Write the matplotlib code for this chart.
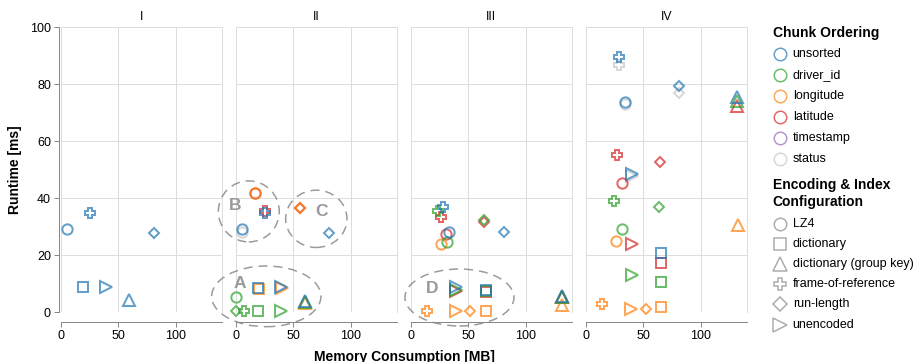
import matplotlib
matplotlib.use("Agg")
import matplotlib.pyplot as plt
from matplotlib.patches import Ellipse
import numpy as np

plt.rcParams['font.family'] = ['Liberation Sans', 'DejaVu Sans']

# data: one entry per point
panel = (['I'] * 6
         + ['II'] * 6 + ['II'] + ['II'] * 3 + ['II'] * 5 + ['II'] * 6
         + ['III'] * 6 + ['III'] * 6 + ['III'] * 6 + ['III'] * 6
         + ['IV'] * 4 + ['IV'] * 6 + ['IV'] * 6 + ['IV'] * 6 + ['IV'] * 6)
ordering = (['unsorted'] * 6
            + ['unsorted'] * 6 + ['status'] + ['latitude'] * 3 + ['longitude'] * 5 + ['driver_id'] * 6
            + ['unsorted'] * 6 + ['driver_id'] * 6 + ['latitude'] * 6 + ['longitude'] * 6
            + ['status'] * 4 + ['unsorted'] * 6 + ['latitude'] * 6 + ['driver_id'] * 6 + ['longitude'] * 6)
encoding = (['LZ4', 'dictionary', 'dictionary (group key)', 'frame-of-reference', 'run-length', 'unencoded']
            # II
            + ['LZ4', 'dictionary', 'dictionary (group key)', 'frame-of-reference', 'run-length', 'unencoded']
            + ['LZ4']
            + ['frame-of-reference', 'LZ4', 'run-length']
            + ['LZ4', 'run-length', 'dictionary', 'unencoded', 'dictionary (group key)']
            + ['LZ4', 'dictionary', 'dictionary (group key)', 'frame-of-reference', 'run-length', 'unencoded']
            # III
            + ['frame-of-reference', 'LZ4', 'run-length', 'unencoded', 'dictionary', 'dictionary (group key)']
            + ['frame-of-reference', 'LZ4', 'run-length', 'unencoded', 'dictionary', 'dictionary (group key)']
            + ['frame-of-reference', 'LZ4', 'run-length', 'unencoded', 'dictionary', 'dictionary (group key)']
            + ['LZ4', 'frame-of-reference', 'unencoded', 'run-length', 'dictionary', 'dictionary (group key)']
            # IV
            + ['frame-of-reference', 'run-length', 'LZ4', 'unencoded']
            + ['frame-of-reference', 'run-length', 'LZ4', 'dictionary (group key)', 'unencoded', 'dictionary']
            + ['frame-of-reference', 'run-length', 'LZ4', 'unencoded', 'dictionary', 'dictionary (group key)']
            + ['frame-of-reference', 'run-length', 'LZ4', 'unencoded', 'dictionary', 'dictionary (group key)']
            + ['LZ4', 'dictionary (group key)', 'frame-of-reference', 'unencoded', 'run-length', 'dictionary'])
memory_mb = ([5.5, 19.7, 59.4, 25.5, 81.2, 39.4]
             + [5.5, 19.7, 60.3, 25.5, 80.9, 39.4]
             + [5.8]
             + [25.3, 16.8, 55.9]
             + [16.8, 55.9, 20.2, 39.9, 60.3]
             + [0.5, 19.7, 60.3, 7.2, 0.5, 39.4]
             + [28.4, 33.6, 81.4, 39.8, 65.5, 131.3]
             + [24.1, 31.8, 63.8, 39.8, 65.5, 131.3]
             + [26.4, 30.7, 64.0, 39.8, 65.5, 131.3]
             + [26.1, 13.9, 39.4, 51.6, 65.5, 131.3]
             + [29.0, 81.5, 34.2, 40.5]
             + [29.0, 81.5, 34.2, 131.9, 40.0, 65.4]
             + [26.9, 64.6, 31.3, 40.0, 65.4, 131.9]
             + [24.9, 63.8, 31.3, 40.0, 65.4, 131.9]
             + [26.1, 132.2, 14.5, 39.2, 52.2, 65.4])
runtime_ms = ([29.2, 8.8, 4.3, 34.9, 27.7, 9.0]
              + [29.2, 8.6, 4.0, 35.0, 27.7, 8.8]
              + [28.3]
              + [35.7, 41.7, 36.7]
              + [41.7, 36.7, 8.2, 8.5, 3.2]
              + [5.4, 0.3, 3.6, 0.3, 0.3, 0.3]
              + [37.0, 28.3, 28.3, 9.0, 8.0, 5.7]
              + [35.6, 24.7, 32.3, 8.0, 7.6, 5.5]
              + [33.3, 27.4, 31.7, 7.3, 7.2, 5.4]
              + [23.8, 0.6, 0.3, 0.3, 0.3, 2.6]
              + [86.7, 76.8, 73.0, 47.8]
              + [89.6, 79.3, 73.8, 75.4, 48.7, 20.7]
              + [55.1, 52.8, 45.4, 23.9, 17.4, 72.5]
              + [39.0, 36.8, 29.4, 13.1, 10.7, 74.0]
              + [25.1, 30.6, 2.8, 1.0, 1.0, 1.7])

panels = ['I', 'II', 'III', 'IV']
orderings = ['unsorted', 'driver_id', 'longitude', 'latitude', 'timestamp', 'status']
order_colors = ['#1f77b4', '#2ca02c', '#ff7f0e', '#d62728', '#9467bd', '#c7c7c7']
encodings = ['LZ4', 'dictionary', 'dictionary (group key)', 'frame-of-reference', 'run-length', 'unencoded']
enc_markers = ['o', 's', '^', 'P', 'D', '>']
enc_sizes = [7.4, 7.4, 8.0, 7.4, 5.6, 8.0]

# annotation ellipses: panel, label, center, width, height, label position
ellipses = [
    ('II', 'A', (26.6, 5.6), 95, 21.3, (3.7, 10.2)),
    ('II', 'B', (11.4, 35.4), 53, 21.4, (-0.6, 37.6)),
    ('II', 'C', (70.1, 32.8), 53.3, 20.1, (74.8, 35.5)),
    ('III', 'D', (42.4, 5.2), 94.8, 20.0, (18.3, 8.4)),
]

W, H = 918, 362
fig = plt.figure(figsize=(W / 100, H / 100), dpi=100)

grid_c = '#dddddd'
axis_c = '#888888'
px = 0.72  # points per pixel

color_of = dict(zip(orderings, order_colors))
marker_of = dict(zip(encodings, enc_markers))
size_of = dict(zip(encodings, enc_sizes))
draw_rank = {'status': 0, 'timestamp': 1, 'latitude': 2, 'longitude': 3, 'driver_id': 4, 'unsorted': 5}

axes = []
for i, p in enumerate(panels):
    left = 60.7 + 175 * i
    ax = fig.add_axes([left / W, (H - 312.3) / H, 161 / W, 285 / H])
    ax.set_xlim(0, 140)
    ax.set_ylim(0, 100)
    for v in [0, 50, 100]:
        ax.axvline(v, color=grid_c, lw=px, zorder=0)
    for v in range(0, 101, 20):
        ax.axhline(v, color=grid_c, lw=px, zorder=0)
    ax.spines['top'].set_color(grid_c)
    ax.spines['right'].set_color(grid_c)
    ax.spines['top'].set_linewidth(px)
    ax.spines['right'].set_linewidth(px)
    ax.spines['bottom'].set_position(('outward', 10 * px))
    ax.spines['bottom'].set_color(axis_c)
    ax.spines['bottom'].set_linewidth(px)
    ax.set_xticks([0, 50, 100])
    ax.tick_params(axis='x', length=5 * px, width=px, color=axis_c, labelsize=9, pad=2)
    if i == 0:
        ax.spines['left'].set_position(('outward', 2 * px))
        ax.spines['left'].set_color(axis_c)
        ax.spines['left'].set_linewidth(px)
        ax.set_yticks(range(0, 101, 20))
        ax.tick_params(axis='y', length=5 * px, width=px, color=axis_c, labelsize=9, pad=2)
    else:
        ax.spines['left'].set_visible(False)
        ax.set_yticks([])
    ax.set_title(p, fontsize=8.8, pad=5)
    ax.patch.set_alpha(0)
    axes.append(ax)

idx = sorted(range(len(panel)), key=lambda k: draw_rank[ordering[k]])
for k in idx:
    ax = axes[panels.index(panel[k])]
    ax.plot(memory_mb[k], runtime_ms[k], linestyle='none',
            marker=marker_of[encoding[k]], markersize=size_of[encoding[k]],
            mfc='none', mec=color_of[ordering[k]], mew=2 * px, alpha=0.7,
            clip_on=False, zorder=3)

for p, lab, c, w, h, lp in ellipses:
    ax = axes[panels.index(p)]
    ax.add_patch(Ellipse(c, w, h, fill=False, edgecolor='#888888', lw=1.5 * px,
                         linestyle=(0, (6, 4)), alpha=0.85, clip_on=False, zorder=4))
    ax.text(lp[0], lp[1], lab, fontsize=12.5, fontweight='bold', color='#999999',
            ha='center', va='center', zorder=5)

fig.text(15 / W, 1 - 169.8 / H, 'Runtime [ms]', rotation=90, ha='center', va='center',
         fontsize=10, fontweight='bold')
fig.text(404.5 / W, 1 - 356.5 / H, 'Memory Consumption [MB]', ha='center', va='center',
         fontsize=10, fontweight='bold')

# legend in pixel coordinates
lg = fig.add_axes([0, 0, 1, 1])
lg.set_xlim(0, W)
lg.set_ylim(H, 0)
lg.axis('off')
lg.text(772.7, 33.3, 'Chunk Ordering', fontsize=10, fontweight='bold', va='center', ha='left')
for j, (o, c) in enumerate(zip(orderings, order_colors)):
    y = 54.3 + 20.9 * j
    lg.plot(780, y, 'o', ms=9, mfc='none', mec=c, mew=1.5 * px, alpha=0.7)
    lg.text(792.7, y, o, fontsize=9, va='center', ha='left')
lg.text(772.7, 185, 'Encoding & Index', fontsize=10, fontweight='bold', va='center', ha='left')
lg.text(772.7, 202.3, 'Configuration', fontsize=10, fontweight='bold', va='center', ha='left')
leg_sizes = [9, 9.2, 9.6, 9.2, 6.8, 9.6]
for j, (e, m) in enumerate(zip(encodings, enc_markers)):
    y = 224 + 20.1 * j
    lg.plot(780, y, m, ms=leg_sizes[j], mfc='none', mec='#888888', mew=1.5 * px, alpha=0.7)
    lg.text(792.7, y, e, fontsize=9, va='center', ha='left')

fig.savefig('out.png', dpi=100)
